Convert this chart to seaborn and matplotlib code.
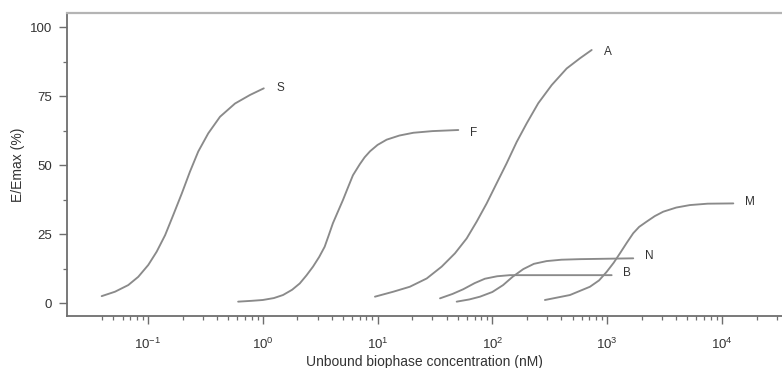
import numpy as np
import pandas as pd
import matplotlib
matplotlib.use("Agg")
import matplotlib.pyplot as plt
import seaborn as sns
from matplotlib.ticker import FixedLocator, NullFormatter

# ---- data (x in nM, y in % of Emax) ----
s_x = [0.0395, 0.0516, 0.0673, 0.0823, 0.1006, 0.119, 0.141, 0.166, 0.197,
       0.232, 0.274, 0.335, 0.424, 0.573, 0.774, 1.02]
s_y = [2.5, 4.1, 6.5, 9.5, 13.8, 18.6, 24.6, 31.9, 39.7,
       47.6, 54.9, 61.5, 67.5, 72.3, 75.4, 77.8]

f_x = [0.61, 0.8, 1.0, 1.25, 1.5, 1.8, 2.1, 2.4, 2.74, 3.1, 3.46, 3.75, 4.08,
       4.5, 4.99, 5.5, 6.1, 7.0, 7.71, 8.6, 10.0, 12.0, 15.5, 20.5, 30.0, 50.5]
f_y = [0.5, 0.8, 1.1, 1.8, 2.9, 4.8, 7.1, 10.0, 13.2, 16.7, 20.4, 24.5, 28.9,
       33.0, 37.3, 41.7, 46.3, 50.3, 52.8, 55.0, 57.3, 59.2, 60.7, 61.7, 62.3, 62.7]

a_x = [9.49, 13.7, 19.1, 26.8, 36.2, 47.2, 59.7, 73.0, 89.2, 109, 133, 163,
       199, 251, 329, 444, 580, 733]
a_y = [2.3, 4.1, 5.9, 8.9, 13.2, 18.0, 23.4, 29.5, 36.1, 43.4, 50.6, 58.4,
       65.1, 72.4, 79.0, 85.0, 88.7, 91.7]

b_x = [35, 45, 55.8, 70, 86, 110, 142, 1094]
b_y = [1.7, 3.3, 5.0, 7.2, 8.8, 9.7, 10.1, 10.1]

n_x = [48.9, 63, 78, 100, 124, 150, 186, 230, 297, 400, 580, 1687]
n_y = [0.5, 1.3, 2.3, 4.0, 6.5, 9.5, 12.3, 14.2, 15.2, 15.7, 15.9, 16.2]

m_x = [287, 474, 708, 850, 990, 1140, 1292, 1480, 1687, 1900, 2207, 2600,
       3080, 4000, 5260, 7500, 12560]
m_y = [1.1, 2.9, 5.9, 8.2, 11.3, 14.6, 18.0, 21.8, 25.3, 27.6, 29.5, 31.5,
       33.1, 34.6, 35.5, 36.0, 36.1]

curve_names = ["S", "F", "A", "B", "N", "M"]
curve_x = [s_x, f_x, a_x, b_x, n_x, m_x]
curve_y = [s_y, f_y, a_y, b_y, n_y, m_y]

y_ticks = [0, 25, 50, 75, 100]
x_major = [0.1, 1, 10, 100, 1000, 10000]
x_major_labels = [r"$10^{-1}$", r"$10^{0}$", r"$10^{1}$", r"$10^{2}$", r"$10^{3}$", r"$10^{4}$"]

frames = []
for name, xs, ys in zip(curve_names, curve_x, curve_y):
    frames.append(pd.DataFrame({"conc": xs, "eff": ys, "drug": name}))
df = pd.concat(frames, ignore_index=True)

# ---- style ----
sns.set_style("ticks")
plt.rcParams["font.family"] = ["Liberation Sans", "DejaVu Sans"]
plt.rcParams["mathtext.fontset"] = "custom"
plt.rcParams["mathtext.rm"] = "Liberation Sans"
plt.rcParams["mathtext.it"] = "Liberation Sans"

fig = plt.figure(figsize=(7.82, 3.68), dpi=100)
ax = fig.add_axes([67 / 782, 52 / 368, 1 - 67 / 782, (316 - 13) / 368])

line_col = "#8a8a8a"
for name in curve_names:
    sub = df[df["drug"] == name]
    sns.lineplot(data=sub, x="conc", y="eff", ax=ax, color=line_col,
                 linewidth=1.35, legend=False, sort=True, estimator=None)

ax.set_xscale("log")
ax.set_xlim(0.0197, 33350)
ax.set_ylim(-4.7, 105.1)

# curve labels at the end of each line
label_pos = {"S": (280, 88), "F": (474, 133), "A": (608, 52),
             "M": (750, 202), "N": (649, 256), "B": (627, 273)}
for name, (px, py) in label_pos.items():
    xd = 10 ** (-1 + (px - 148) / 114.8)
    yd = (303 - py) / 2.76
    ax.text(xd, yd, name, fontsize=8.5, color="#333333", ha="center", va="center")

# axes / ticks
ax.set_yticks(y_ticks)
ax.set_yticks([12.5, 37.5, 62.5, 87.5], minor=True)
ax.set_xticks(x_major)
ax.set_xticklabels(x_major_labels)
minor = []
for dec in [0.01, 0.1, 1, 10, 100, 1000, 10000]:
    for k in range(2, 10):
        v = k * dec
        if 0.039 < v < 31000:
            minor.append(v)
ax.xaxis.set_minor_locator(FixedLocator(minor))
ax.xaxis.set_minor_formatter(NullFormatter())

spine_col = "#6e6e6e"
for side in ["left", "bottom"]:
    ax.spines[side].set_color(spine_col)
    ax.spines[side].set_linewidth(1.3)
ax.spines["top"].set_color("#b4b4b4")
ax.spines["top"].set_linewidth(1.6)
ax.spines["right"].set_visible(False)

ax.tick_params(axis="both", which="major", length=6, width=1.0, color=spine_col,
               labelsize=9.5, labelcolor="#333333", direction="out")
ax.tick_params(axis="both", which="minor", length=3, width=0.9, color=spine_col,
               direction="out")
ax.tick_params(axis="x", which="major", pad=9)
ax.tick_params(axis="y", which="major", pad=5)

ax.set_xlabel("Unbound biophase concentration (nM)", fontsize=10, color="#333333", labelpad=2)
ax.set_ylabel("E/Emax (%)", fontsize=10, color="#333333", labelpad=3)

fig.savefig("out.png", dpi=100)
